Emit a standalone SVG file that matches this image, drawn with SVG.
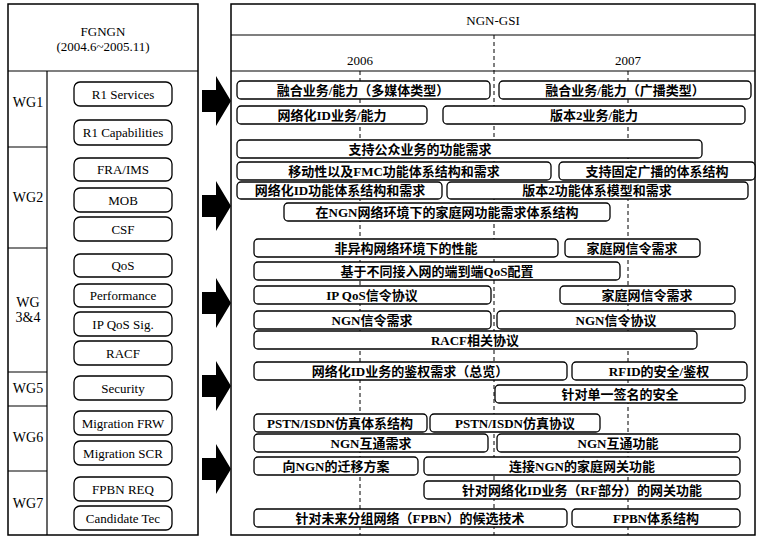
<svg xmlns="http://www.w3.org/2000/svg" width="764" height="541" viewBox="0 0 764 541">
<style>
text{font-family:"Liberation Serif","Noto Sans CJK SC",serif;font-size:13px;fill:#000;text-anchor:middle;dominant-baseline:central}
.wg{font-size:14px}
.frame{fill:#fff;stroke:#000;stroke-width:1.5}
.ln{stroke:#000;stroke-width:1.2;fill:none}
.dash{stroke:#000;stroke-width:1;stroke-dasharray:4 3;fill:none}
.node rect{fill:#fff;stroke:#000;stroke-width:1.3}
.bar rect{fill:#fff;stroke:#000;stroke-width:1.3}
.bar text{font-size:13px;font-weight:bold}
.arr{fill:#000}
</style>
<rect width="764" height="541" fill="#fff"/>
<g id="left-panel">
<rect class="frame" x="8" y="4" width="190" height="531"/>
<line class="ln" x1="8" y1="71" x2="198" y2="71"/>
<line class="ln" x1="47" y1="71" x2="47" y2="535"/>
<line class="ln" x1="8" y1="147" x2="47" y2="147"/>
<line class="ln" x1="8" y1="248" x2="47" y2="248"/>
<line class="ln" x1="8" y1="372" x2="47" y2="372"/>
<line class="ln" x1="8" y1="406" x2="47" y2="406"/>
<line class="ln" x1="8" y1="471" x2="47" y2="471"/>
<text x="103" y="31">FGNGN</text>
<text x="103" y="46">(2004.6~2005.11)</text>
<text class="wg" x="28" y="102">WG1</text>
<text class="wg" x="28" y="197">WG2</text>
<text class="wg" x="28" y="302">WG</text>
<text class="wg" x="28" y="317">3&amp;4</text>
<text class="wg" x="28" y="388">WG5</text>
<text class="wg" x="28" y="437">WG6</text>
<text class="wg" x="28" y="503">WG7</text>
</g>
<g id="n-r1s" class="node"><rect x="74" y="82" width="98" height="24" rx="6"/><text x="123" y="94">R1 Services</text></g>
<g id="n-r1c" class="node"><rect x="74" y="120" width="98" height="25" rx="6"/><text x="123" y="132">R1 Capabilities</text></g>
<g id="n-fra" class="node"><rect x="74" y="158" width="98" height="23" rx="6"/><text x="123" y="169">FRA/IMS</text></g>
<g id="n-mob" class="node"><rect x="74" y="188" width="98" height="24" rx="6"/><text x="123" y="200">MOB</text></g>
<g id="n-csf" class="node"><rect x="74" y="217" width="98" height="24" rx="6"/><text x="123" y="229">CSF</text></g>
<g id="n-qos" class="node"><rect x="74" y="254" width="98" height="23" rx="6"/><text x="123" y="265">QoS</text></g>
<g id="n-perf" class="node"><rect x="74" y="284" width="98" height="23" rx="6"/><text x="123" y="295">Performance</text></g>
<g id="n-ipqos" class="node"><rect x="74" y="312" width="98" height="24" rx="6"/><text x="123" y="324">IP QoS Sig.</text></g>
<g id="n-racf" class="node"><rect x="74" y="341" width="98" height="24" rx="6"/><text x="123" y="353">RACF</text></g>
<g id="n-sec" class="node"><rect x="74" y="376" width="98" height="24" rx="6"/><text x="123" y="388">Security</text></g>
<g id="n-mfrw" class="node"><rect x="74" y="411" width="98" height="24" rx="6"/><text x="123" y="423">Migration FRW</text></g>
<g id="n-mscr" class="node"><rect x="74" y="441" width="98" height="24" rx="6"/><text x="123" y="453">Migration SCR</text></g>
<g id="n-fpbn" class="node"><rect x="74" y="477" width="98" height="24" rx="6"/><text x="123" y="489">FPBN REQ</text></g>
<g id="n-cand" class="node"><rect x="74" y="506" width="98" height="24" rx="6"/><text x="123" y="518">Candidate Tec</text></g>
<g id="connectors">
<polygon class="arr" points="202,90 216,90 216,76 231,101 216,126 216,112 202,112"/>
<polygon class="arr" points="202,195 216,195 216,181 231,206 216,231 216,217 202,217"/>
<polygon class="arr" points="202,292 216,292 216,278 231,303 216,328 216,314 202,314"/>
<polygon class="arr" points="202,375 216,375 216,361 231,386 216,411 216,397 202,397"/>
<polygon class="arr" points="202,458 216,458 216,444 231,469 216,494 216,480 202,480"/>
</g>
<g id="right-panel">
<rect class="frame" x="231" y="4" width="524" height="531"/>
<line class="ln" x1="231" y1="35" x2="755" y2="35"/>
<line class="ln" x1="231" y1="71" x2="755" y2="71"/>
<line class="dash" x1="494" y1="35" x2="494" y2="535"/>
<line class="dash" x1="360" y1="71" x2="360" y2="535"/>
<line class="dash" x1="628" y1="71" x2="628" y2="535"/>
<text x="493" y="20">NGN-GSI</text>
<text x="360" y="60">2006</text>
<text x="628" y="60">2007</text>
</g>
<g id="b1a" class="bar"><rect x="237" y="81" width="253" height="18" rx="4"/><text x="363" y="90">融合业务/能力（多媒体类型）</text></g>
<g id="b1b" class="bar"><rect x="499" y="81" width="252" height="18" rx="4"/><text x="625" y="90">融合业务/能力（广播类型）</text></g>
<g id="b2a" class="bar"><rect x="237" y="106" width="190" height="18" rx="4"/><text x="332" y="115">网络化ID业务/能力</text></g>
<g id="b2b" class="bar"><rect x="443" y="106" width="302" height="18" rx="4"/><text x="594" y="115">版本2业务/能力</text></g>
<g id="b3" class="bar"><rect x="237" y="140" width="465" height="18" rx="4"/><text x="420" y="149">支持公众业务的功能需求</text></g>
<g id="b4a" class="bar"><rect x="237" y="162" width="314" height="18" rx="4"/><text x="394" y="171">移动性以及FMC功能体系结构和需求</text></g>
<g id="b4b" class="bar"><rect x="559" y="162" width="196" height="18" rx="4"/><text x="657" y="171">支持固定广播的体系结构</text></g>
<g id="b5a" class="bar"><rect x="237" y="182" width="205" height="17" rx="4"/><text x="340" y="190.5">网络化ID功能体系结构和需求</text></g>
<g id="b5b" class="bar"><rect x="447" y="182" width="301" height="17" rx="4"/><text x="597" y="190.5">版本2功能体系模型和需求</text></g>
<g id="b6" class="bar"><rect x="284" y="203" width="326" height="18" rx="4"/><text x="447" y="212">在NGN网络环境下的家庭网功能需求体系结构</text></g>
<g id="b7a" class="bar"><rect x="254" y="239" width="304" height="18" rx="4"/><text x="406" y="248">非异构网络环境下的性能</text></g>
<g id="b7b" class="bar"><rect x="565" y="239" width="135" height="18" rx="4"/><text x="632" y="248">家庭网信令需求</text></g>
<g id="b8" class="bar"><rect x="254" y="262" width="366" height="18" rx="4"/><text x="437" y="271">基于不同接入网的端到端QoS配置</text></g>
<g id="b9a" class="bar"><rect x="254" y="286" width="237" height="18" rx="4"/><text x="372" y="295">IP QoS信令协议</text></g>
<g id="b9b" class="bar"><rect x="560" y="286" width="175" height="18" rx="4"/><text x="647" y="295">家庭网信令需求</text></g>
<g id="b10a" class="bar"><rect x="254" y="311" width="237" height="18" rx="4"/><text x="372" y="320">NGN信令需求</text></g>
<g id="b10b" class="bar"><rect x="497" y="311" width="238" height="18" rx="4"/><text x="616" y="320">NGN信令协议</text></g>
<g id="b11" class="bar"><rect x="254" y="331" width="443" height="18" rx="4"/><text x="475" y="340">RACF相关协议</text></g>
<g id="b12a" class="bar"><rect x="254" y="362" width="313" height="18" rx="4"/><text x="410" y="371">网络化ID业务的鉴权需求（总览）</text></g>
<g id="b12b" class="bar"><rect x="572" y="362" width="175" height="18" rx="4"/><text x="659" y="371">RFID的安全/鉴权</text></g>
<g id="b13" class="bar"><rect x="495" y="385" width="250" height="18" rx="4"/><text x="620" y="394">针对单一签名的安全</text></g>
<g id="b14a" class="bar"><rect x="254" y="414" width="173" height="18" rx="4"/><text x="340" y="423">PSTN/ISDN仿真体系结构</text></g>
<g id="b14b" class="bar"><rect x="430" y="414" width="170" height="18" rx="4"/><text x="515" y="423">PSTN/ISDN仿真协议</text></g>
<g id="b15a" class="bar"><rect x="254" y="434" width="234" height="18" rx="4"/><text x="371" y="443">NGN互通需求</text></g>
<g id="b15b" class="bar"><rect x="497" y="434" width="243" height="18" rx="4"/><text x="618" y="443">NGN互通功能</text></g>
<g id="b16a" class="bar"><rect x="254" y="457" width="164" height="18" rx="4"/><text x="336" y="466">向NGN的迁移方案</text></g>
<g id="b16b" class="bar"><rect x="424" y="457" width="316" height="18" rx="4"/><text x="582" y="466">连接NGN的家庭网关功能</text></g>
<g id="b17" class="bar"><rect x="424" y="481" width="316" height="18" rx="4"/><text x="582" y="490">针对网络化ID业务（RF部分）的网关功能</text></g>
<g id="b18a" class="bar"><rect x="254" y="509" width="313" height="18" rx="4"/><text x="410" y="518">针对未来分组网络（FPBN）的候选技术</text></g>
<g id="b18b" class="bar"><rect x="572" y="509" width="168" height="18" rx="4"/><text x="656" y="518">FPBN体系结构</text></g>
</svg>
